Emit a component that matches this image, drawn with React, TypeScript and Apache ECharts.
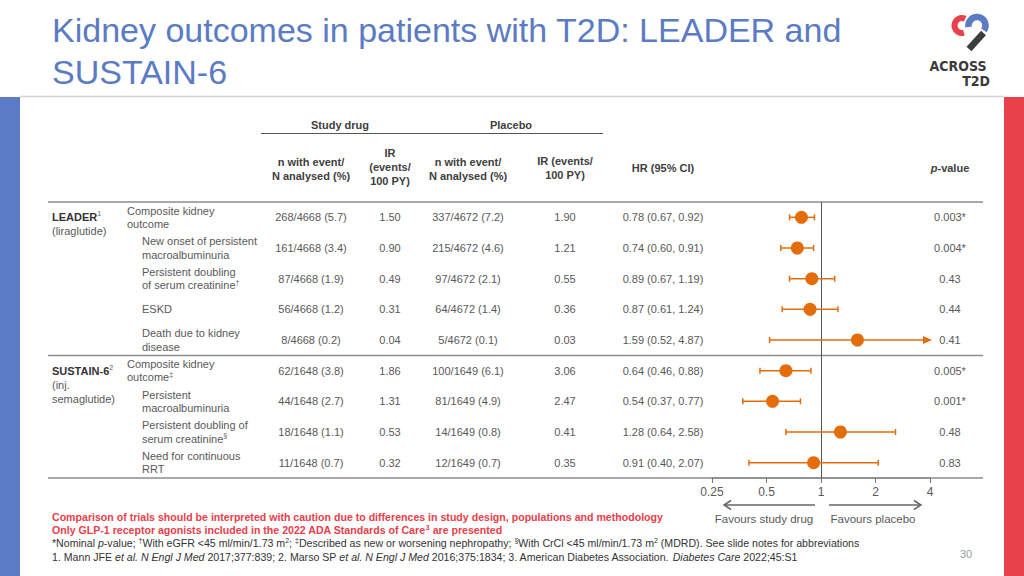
import React, { useEffect, useRef } from 'react';
import * as echarts from 'echarts';

const FONT = "'Liberation Sans', Arial, Helvetica, sans-serif";
const BLUE = '#5b7bc4';
const RED = '#e9414c';
const ORANGE = '#e46c0a';
const GRAY = '#595959';
const DARK = '#404040';

// ---------- data ----------
const studyLabels = ['{b|LEADER}{sup|1}\n(liraglutide)', '{b|SUSTAIN-6}{sup|2}\n(inj.\nsemaglutide)'];
const studyStartRows = [0, 5];

const outcomes = [
  'Composite kidney\noutcome',
  'New onset of persistent\nmacroalbuminuria',
  'Persistent doubling\nof serum creatinine{sup|†}',
  'ESKD',
  'Death due to kidney\ndisease',
  'Composite kidney\noutcome{sup|‡}',
  'Persistent\nmacroalbuminuria',
  'Persistent doubling of\nserum creatinine{sup|§}',
  'Need for continuous\nRRT',
];
const subOutcome = [false, true, true, true, true, false, true, true, true];

const drugEvents = ['268/4668 (5.7)', '161/4668 (3.4)', '87/4668 (1.9)', '56/4668 (1.2)', '8/4668 (0.2)', '62/1648 (3.8)', '44/1648 (2.7)', '18/1648 (1.1)', '11/1648 (0.7)'];
const drugIR = ['1.50', '0.90', '0.49', '0.31', '0.04', '1.86', '1.31', '0.53', '0.32'];
const placeboEvents = ['337/4672 (7.2)', '215/4672 (4.6)', '97/4672 (2.1)', '64/4672 (1.4)', '5/4672 (0.1)', '100/1649 (6.1)', '81/1649 (4.9)', '14/1649 (0.8)', '12/1649 (0.7)'];
const placeboIR = ['1.90', '1.21', '0.55', '0.36', '0.03', '3.06', '2.47', '0.41', '0.35'];
const hr = [0.78, 0.74, 0.89, 0.87, 1.59, 0.64, 0.54, 1.28, 0.91];
const ciLow = [0.67, 0.60, 0.67, 0.61, 0.52, 0.46, 0.37, 0.64, 0.40];
const ciHigh = [0.92, 0.91, 1.19, 1.24, 4.87, 0.88, 0.77, 2.58, 2.07];
const pValues = ['0.003*', '0.004*', '0.43', '0.44', '0.41', '0.005*', '0.001*', '0.48', '0.83'];

const xMin = 0.25;
const xMax = 4;
const groupHeaders = ['Study drug', 'Placebo'];
const columnHeaders = ['n with event/\nN analysed (%)', 'IR\n(events/\n100 PY)', 'n with event/\nN analysed (%)', 'IR (events/\n100 PY)', 'HR (95% CI)', '{i|p}-value'];
const favoursLabels = ['Favours study drug', 'Favours placebo'];
const titleText = 'Kidney outcomes in patients with T2D: LEADER and\nSUSTAIN-6';
const logoLines = ['ACROSS', 'T2D'];
const footnotes = [
  'Comparison of trials should be interpreted with caution due to differences in study design, populations and methodology',
  'Only GLP-1 receptor agonists included in the 2022 ADA Standards of Care{sup|3} are presented',
  '*Nominal {i|p}-value; {sup|†}With eGFR <45 ml/min/1.73 m{sup|2}; {sup|‡}Described as new or worsening nephropathy; {sup|§}With CrCl <45 ml/min/1.73 m{sup|2} (MDRD). See slide notes for abbreviations',
  '1. Mann JFE {i|et al. N Engl J Med} 2017;377:839; 2. Marso SP {i|et al. N Engl J Med} 2016;375:1834; 3. American Diabetes Association. {i|Diabetes Care} 2022;45:S1',
];
const pageNumber = '30';

const rowIds = outcomes.map((_, i) => String(i));
const hrText = hr.map((h, i) => `${h.toFixed(2)} (${ciLow[i].toFixed(2)}, ${ciHigh[i].toFixed(2)})`);

// ---------- layout helpers ----------
const COL = { study: 52, outcome: 127, sub: 142, drugN: 311, drugIR: 390, placN: 468, placIR: 565, hr: 663, p: 950 };

function txt(x: number, y: number, text: string, o: any = {}) {
  const align = o.align || 'left';
  const va = o.va || 'middle';
  return {
    type: 'text',
    x,
    y,
    silent: true,
    style: {
      text,
      fontFamily: o.fontFamily || FONT,
      fontSize: o.fontSize || 11,
      fontWeight: o.fontWeight || 'normal',
      fontStyle: o.fontStyle || 'normal',
      fill: o.fill || GRAY,
      lineHeight: o.lineHeight,
      align,
      textAlign: align,
      verticalAlign: va,
      textVerticalAlign: va,
      rich: o.rich,
    },
  };
}

function supRich(fontSize: number, fill: string, lineHeight: number, bold = false) {
  return {
    sup: { fontSize: Math.round(fontSize * 0.62), verticalAlign: 'top', fill, fontFamily: FONT, lineHeight, fontWeight: bold ? 'bold' : 'normal' },
    i: { fontStyle: 'italic', fontSize, fill, fontFamily: FONT, lineHeight, fontWeight: bold ? 'bold' : 'normal' },
    b: { fontWeight: 'bold', fontSize, fill: '#333333', fontFamily: FONT, lineHeight },
  };
}

function line(x1: number, y1: number, x2: number, y2: number, stroke: string, lineWidth: number) {
  return { type: 'line', silent: true, shape: { x1, y1, x2, y2 }, style: { stroke, lineWidth } };
}

export default function App() {
  const ref = useRef<HTMLDivElement>(null);

  useEffect(() => {
    if (!ref.current) return;
    const chart = echarts.init(ref.current, null, { renderer: 'svg' });

    const graphics: any[] = [];
    // side bars and top rule
    graphics.push({ type: 'rect', silent: true, shape: { x: 0, y: 97, width: 20, height: 479 }, style: { fill: BLUE } });
    graphics.push({ type: 'rect', silent: true, shape: { x: 1004, y: 97, width: 20, height: 479 }, style: { fill: RED } });
    graphics.push(line(20, 96.5, 1004, 96.5, '#d4d4d4', 1.5));
    // title
    graphics.push(txt(52, 9, titleText, { fontSize: 34, fill: BLUE, lineHeight: 42, va: 'top' }));
    // logo
    graphics.push({ type: 'arc', silent: true, shape: { cx: 962, cy: 25.5, r: 7.5, startAngle: (-65 * Math.PI) / 180, endAngle: (75 * Math.PI) / 180, clockwise: false }, style: { stroke: RED, lineWidth: 6, fill: null } });
    graphics.push({ type: 'arc', silent: true, shape: { cx: 977, cy: 25.5, r: 8.5, startAngle: (170 * Math.PI) / 180, endAngle: (395 * Math.PI) / 180, clockwise: true }, style: { stroke: BLUE, lineWidth: 6.5, fill: null } });
    graphics.push(line(983.5, 33, 969, 49, '#3d3d3d', 6.5));
    const logoFont = "'DejaVu Sans Condensed', 'Liberation Sans Narrow', " + FONT;
    graphics.push(txt(958, 66, logoLines[0], { align: 'center', fontSize: 14, fontWeight: 'bold', fill: '#3a3a3a', fontFamily: logoFont }));
    graphics.push(txt(990, 81, logoLines[1], { align: 'right', fontSize: 14, fontWeight: 'bold', fill: '#3a3a3a', fontFamily: logoFont }));

    // table headers
    graphics.push(txt(340, 125, groupHeaders[0], { align: 'center', fontWeight: 'bold', fill: DARK }));
    graphics.push(txt(511, 125, groupHeaders[1], { align: 'center', fontWeight: 'bold', fill: DARK }));
    graphics.push(line(261, 133.5, 603, 133.5, '#555555', 1.2));
    const headerX = [COL.drugN, COL.drugIR, COL.placN, COL.placIR, COL.hr, COL.p];
    const headerY = [168.5, 167, 168.5, 168, 168, 168];
    columnHeaders.forEach((h, k) => {
      graphics.push(txt(headerX[k], headerY[k], h, { align: 'center', fontWeight: 'bold', fill: DARK, lineHeight: 14, rich: supRich(11, DARK, 14, true) }));
    });
    // table rules
    graphics.push(line(48, 202, 983, 202, '#8c8c8c', 1.5));
    graphics.push(line(48, 355.5, 983, 355.5, '#8c8c8c', 1.5));
    graphics.push(line(48, 478, 983, 478, '#8c8c8c', 1.5));

    // favours arrows
    const ay = 505;
    graphics.push(line(815, ay, 724, ay, '#666666', 1.5));
    graphics.push({ type: 'polyline', silent: true, shape: { points: [[731, ay - 4.5], [724, ay], [731, ay + 4.5]] }, style: { stroke: '#666666', lineWidth: 1.5, fill: null } });
    graphics.push(line(829, ay, 921, ay, '#666666', 1.5));
    graphics.push({ type: 'polyline', silent: true, shape: { points: [[914, ay - 4.5], [921, ay], [914, ay + 4.5]] }, style: { stroke: '#666666', lineWidth: 1.5, fill: null } });
    graphics.push(txt(764, 519, favoursLabels[0], { align: 'center', fontSize: 11.5 }));
    graphics.push(txt(873, 519, favoursLabels[1], { align: 'center', fontSize: 11.5 }));

    // footnotes
    const fy = [517, 530, 543, 557];
    footnotes.forEach((f, k) => {
      const red = k < 2;
      const fill = red ? '#e8404a' : '#333333';
      graphics.push(txt(52, fy[k], f, { fontSize: 10.6, fontWeight: red ? 'bold' : 'normal', fill, lineHeight: 12, rich: supRich(10.6, fill, 12, red) }));
    });
    graphics.push(txt(966, 554, pageNumber, { align: 'center', fontSize: 11, fill: '#9a9a9a' }));

    const option: any = {
      animation: false,
      backgroundColor: '#ffffff',
      grid: { left: 712, width: 218, top: 202, height: 276, containLabel: false, outerBoundsMode: 'none' },
      xAxis: {
        type: 'log',
        logBase: 2,
        min: xMin,
        max: xMax,
        splitLine: { show: false },
        axisLine: { show: true, lineStyle: { color: '#8c8c8c', width: 1.5 } },
        axisTick: { show: true, length: 5, lineStyle: { color: '#777777', width: 1 } },
        axisLabel: {
          color: GRAY,
          fontSize: 12,
          fontFamily: FONT,
          margin: 8,
          formatter: (v: number) => String(Math.round(v * 100) / 100),
        },
      },
      yAxis: { type: 'category', data: rowIds, inverse: true, show: false },
      graphic: graphics,
      series: [
        {
          type: 'custom',
          name: 'table',
          clip: false,
          silent: true,
          data: rowIds.map((_, i) => [1, i]),
          encode: { x: 0, y: 1 },
          renderItem: (params: any, api: any) => {
            const i = params.dataIndex;
            const y = api.coord([1, i])[1];
            const rich = supRich(11, GRAY, 13.5);
            const children: any[] = [];
            const s = studyStartRows.indexOf(i);
            if (s >= 0) {
              children.push(txt(COL.study, y - 7, studyLabels[s], { va: 'top', lineHeight: 14, rich: supRich(11, GRAY, 14) }));
            }
            children.push(txt(subOutcome[i] ? COL.sub : COL.outcome, y, outcomes[i], { lineHeight: 13.5, rich }));
            children.push(txt(COL.drugN, y, drugEvents[i], { align: 'center' }));
            children.push(txt(COL.drugIR, y, drugIR[i], { align: 'center' }));
            children.push(txt(COL.placN, y, placeboEvents[i], { align: 'center' }));
            children.push(txt(COL.placIR, y, placeboIR[i], { align: 'center' }));
            children.push(txt(COL.hr, y, hrText[i], { align: 'center' }));
            children.push(txt(COL.p, y, pValues[i], { align: 'center' }));
            return { type: 'group', children };
          },
          z: 3,
        },
        {
          type: 'custom',
          name: 'ci',
          clip: false,
          silent: true,
          data: rowIds.map((_, i) => [ciLow[i], ciHigh[i], i]),
          encode: { x: [0, 1], y: 2 },
          renderItem: (params: any, api: any) => {
            const row = api.value(2);
            const hiVal = api.value(1);
            const clipped = hiVal > xMax;
            const pLo = api.coord([api.value(0), row]);
            const pHi = api.coord([clipped ? xMax : hiVal, row]);
            const y = pLo[1];
            const st = { stroke: ORANGE, lineWidth: 1.5 };
            const children: any[] = [
              { type: 'line', shape: { x1: pLo[0], y1: y - 3, x2: pLo[0], y2: y + 3 }, style: st },
            ];
            if (clipped) {
              const tip = pHi[0] + 2;
              children.push({ type: 'line', shape: { x1: pLo[0], y1: y, x2: tip - 8, y2: y }, style: st });
              children.push({ type: 'polygon', shape: { points: [[tip - 9, y - 4], [tip, y], [tip - 9, y + 4]] }, style: { fill: ORANGE } });
            } else {
              children.push({ type: 'line', shape: { x1: pLo[0], y1: y, x2: pHi[0], y2: y }, style: st });
              children.push({ type: 'line', shape: { x1: pHi[0], y1: y - 3, x2: pHi[0], y2: y + 3 }, style: st });
            }
            return { type: 'group', children };
          },
          z: 4,
        },
        {
          type: 'scatter',
          name: 'HR',
          data: hr.map((h, i) => [h, i]),
          symbol: 'circle',
          symbolSize: 13,
          itemStyle: { color: ORANGE, opacity: 1 },
          silent: true,
          z: 5,
          markLine: {
            silent: true,
            symbol: 'none',
            label: { show: false },
            lineStyle: { color: '#555555', width: 1, type: 'solid' },
            data: [{ xAxis: 1 }],
            z: 2,
          },
        },
      ],
    };

    chart.setOption(option);
    return () => chart.dispose();
  }, []);

  return (
    <div
      ref={ref}
      style={{ position: 'fixed', left: 0, top: 0, width: 1024, height: 576, background: '#ffffff' }}
    />
  );
}
